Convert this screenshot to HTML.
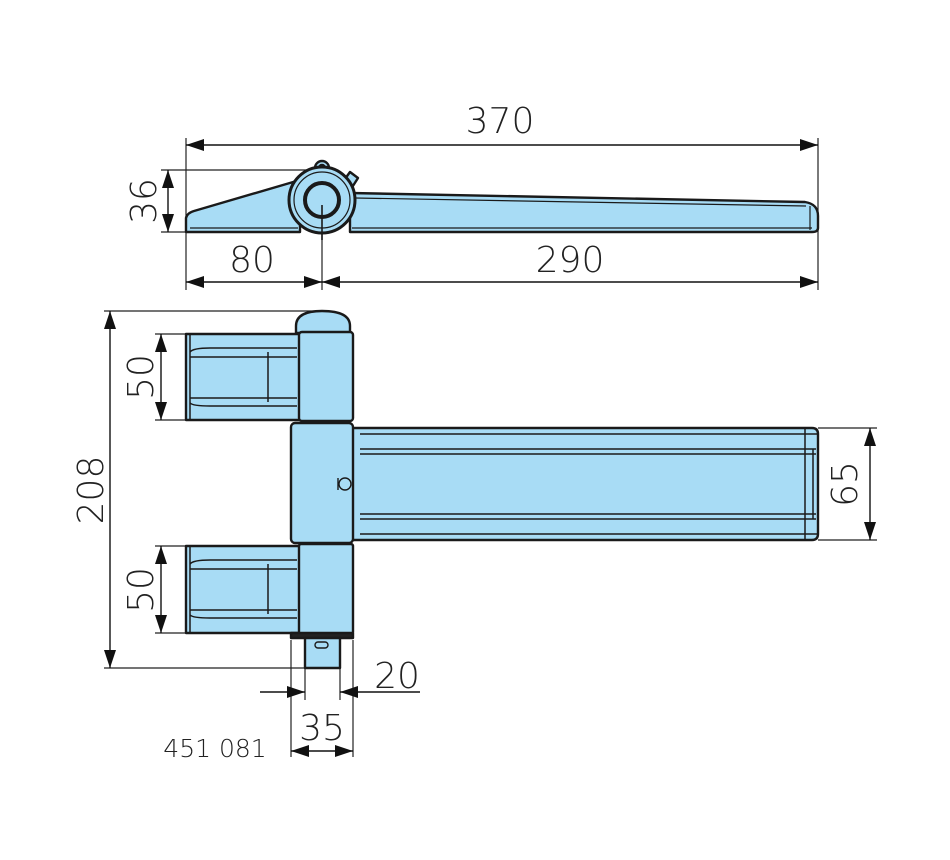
<!DOCTYPE html>
<html><head><meta charset="utf-8"><style>
html,body{margin:0;padding:0;background:#fff;}
svg{display:block;}
text{font-family:"DejaVu Sans","Liberation Sans",sans-serif;font-weight:300;fill:#222;}
</style></head><body>
<svg width="950" height="860" viewBox="0 0 950 860" xmlns="http://www.w3.org/2000/svg">
<defs>
<marker id="a" viewBox="0 0 18 12" refX="18" refY="6" markerWidth="18" markerHeight="12" markerUnits="userSpaceOnUse" orient="auto-start-reverse"><path d="M0,0 L18,6 L0,12 z" fill="#111"/></marker>
</defs>
<g stroke="#222" stroke-width="1.2" fill="none">
<line x1="186" y1="138" x2="186" y2="290"/>
<line x1="818" y1="138" x2="818" y2="290"/>
<line x1="322" y1="215" x2="322" y2="290"/>
<line x1="161" y1="170" x2="320" y2="170"/>
<line x1="161" y1="232" x2="186" y2="232"/>
<line x1="104" y1="311" x2="320" y2="311"/>
<line x1="104" y1="668" x2="305" y2="668"/>
<line x1="155" y1="334" x2="188" y2="334"/>
<line x1="155" y1="420" x2="190" y2="420"/>
<line x1="155" y1="546" x2="188" y2="546"/>
<line x1="155" y1="633" x2="190" y2="633"/>
<line x1="818" y1="428" x2="877" y2="428"/>
<line x1="818" y1="540" x2="877" y2="540"/>
<line x1="291" y1="640" x2="291" y2="757"/>
<line x1="353" y1="640" x2="353" y2="757"/>
<line x1="305" y1="668" x2="305" y2="700"/>
<line x1="340" y1="668" x2="340" y2="700"/>
</g>
<g stroke="#111" stroke-width="1.4">
<line x1="186" y1="145" x2="818" y2="145" marker-start="url(#a)" marker-end="url(#a)"/>
<line x1="168" y1="170" x2="168" y2="232" marker-start="url(#a)" marker-end="url(#a)"/>
<line x1="186" y1="282" x2="322" y2="282" marker-start="url(#a)" marker-end="url(#a)"/>
<line x1="322" y1="282" x2="818" y2="282" marker-start="url(#a)" marker-end="url(#a)"/>
<line x1="110" y1="311" x2="110" y2="668" marker-start="url(#a)" marker-end="url(#a)"/>
<line x1="161" y1="334" x2="161" y2="420" marker-start="url(#a)" marker-end="url(#a)"/>
<line x1="161" y1="546" x2="161" y2="633" marker-start="url(#a)" marker-end="url(#a)"/>
<line x1="870" y1="428" x2="870" y2="540" marker-start="url(#a)" marker-end="url(#a)"/>
<line x1="260" y1="692" x2="305" y2="692" marker-end="url(#a)"/>
<line x1="420" y1="692" x2="340" y2="692" marker-end="url(#a)"/>
<line x1="291" y1="751" x2="353" y2="751" marker-start="url(#a)" marker-end="url(#a)"/>
</g>
<g font-size="36">
<text x="500" y="133" text-anchor="middle">370</text>
<text x="252" y="272" text-anchor="middle">80</text>
<text x="570" y="272" text-anchor="middle">290</text>
<text x="397" y="688" text-anchor="middle">20</text>
<text x="322" y="740" text-anchor="middle">35</text>
<text transform="translate(156,201) rotate(-90)" text-anchor="middle">36</text>
<text transform="translate(103,490) rotate(-90)" text-anchor="middle">208</text>
<text transform="translate(153,377) rotate(-90)" text-anchor="middle">50</text>
<text transform="translate(153,590) rotate(-90)" text-anchor="middle">50</text>
<text transform="translate(857,484) rotate(-90)" text-anchor="middle">65</text>
</g>
<text x="215" y="757" font-size="25" text-anchor="middle">451 081</text>

<g stroke="#1a1a1a" stroke-width="2.4" fill="#a8dcf5" stroke-linejoin="round">
<path d="M186,232 L186,218 Q187,213 194,211 L300,180 L300,232 Z"/>
<line x1="190" y1="228" x2="298" y2="228" stroke-width="1.2"/>
<path d="M350,193 L805,202 Q818,204 818,216 L818,228 Q818,232 812,232 L350,232 Z"/>
<line x1="352" y1="228" x2="812" y2="228" stroke-width="1.2"/>
<line x1="355" y1="198" x2="806" y2="206" stroke-width="1.2"/>
<line x1="810" y1="206" x2="810" y2="230" stroke-width="1.2"/>
<path d="M342,183 L350,172 L358,178 L351,189 Z"/>
<circle cx="322" cy="168" r="7"/>
<circle cx="322" cy="168" r="3" fill="#fff"/>
<circle cx="322" cy="200" r="33" stroke-width="3"/>
<circle cx="322" cy="200" r="28" stroke-width="1.2"/>
<circle cx="322" cy="200" r="17" stroke-width="4"/>
<line x1="322" y1="205" x2="322" y2="240" stroke-width="1.6"/>
</g>

<g stroke="#1a1a1a" stroke-width="2.4" fill="#a8dcf5" stroke-linejoin="round">
<path d="M349,428 L812,428 Q818,428 818,434 L818,534 Q818,540 812,540 L349,540 Z"/>
<g stroke-width="1.5" fill="none">
<line x1="360" y1="434" x2="818" y2="434"/>
<line x1="360" y1="449" x2="816" y2="449"/>
<line x1="360" y1="454" x2="816" y2="454"/>
<line x1="360" y1="514" x2="816" y2="514"/>
<line x1="360" y1="519" x2="816" y2="519"/>
<line x1="360" y1="534" x2="818" y2="534"/>
<line x1="805" y1="428" x2="805" y2="540"/>
<line x1="813" y1="449" x2="813" y2="519"/>
</g>
<rect x="186" y="334" width="114" height="86"/>
<g stroke-width="1.5" fill="none">
<line x1="190" y1="334" x2="190" y2="420"/>
<path d="M190,352 Q193,348 210,348 L297,348"/>
<path d="M190,357 L297,357"/>
<path d="M190,398 L297,398"/>
<path d="M190,403 Q193,406 210,406 L297,406"/>
<line x1="268" y1="352" x2="268" y2="402"/>
</g>
<rect x="186" y="546" width="114" height="87"/>
<g stroke-width="1.5" fill="none">
<line x1="190" y1="546" x2="190" y2="633"/>
<path d="M190,564 Q193,560 210,560 L297,560"/>
<path d="M190,569 L297,569"/>
<path d="M190,610 L297,610"/>
<path d="M190,615 Q193,618 210,618 L297,618"/>
<line x1="268" y1="564" x2="268" y2="614"/>
</g>
<path d="M296,333 L296,326 Q296,311 322,311 Q350,311 350,326 L350,333 Z"/>
<rect x="299" y="332" width="54" height="89" rx="3"/>
<rect x="291" y="423" width="62" height="120" rx="4"/>
<rect x="299" y="544" width="54" height="90" rx="2"/>
<rect x="291" y="633" width="62" height="5" fill="#222"/>
<rect x="305" y="638" width="35" height="30"/>
<rect x="315" y="642" width="13" height="6" rx="3" stroke-width="1.4"/>
<circle cx="345" cy="484" r="6" stroke-width="1.4"/>
<line x1="338" y1="478" x2="338" y2="490" stroke-width="1.4"/>
</g>
</svg>
</body></html>
